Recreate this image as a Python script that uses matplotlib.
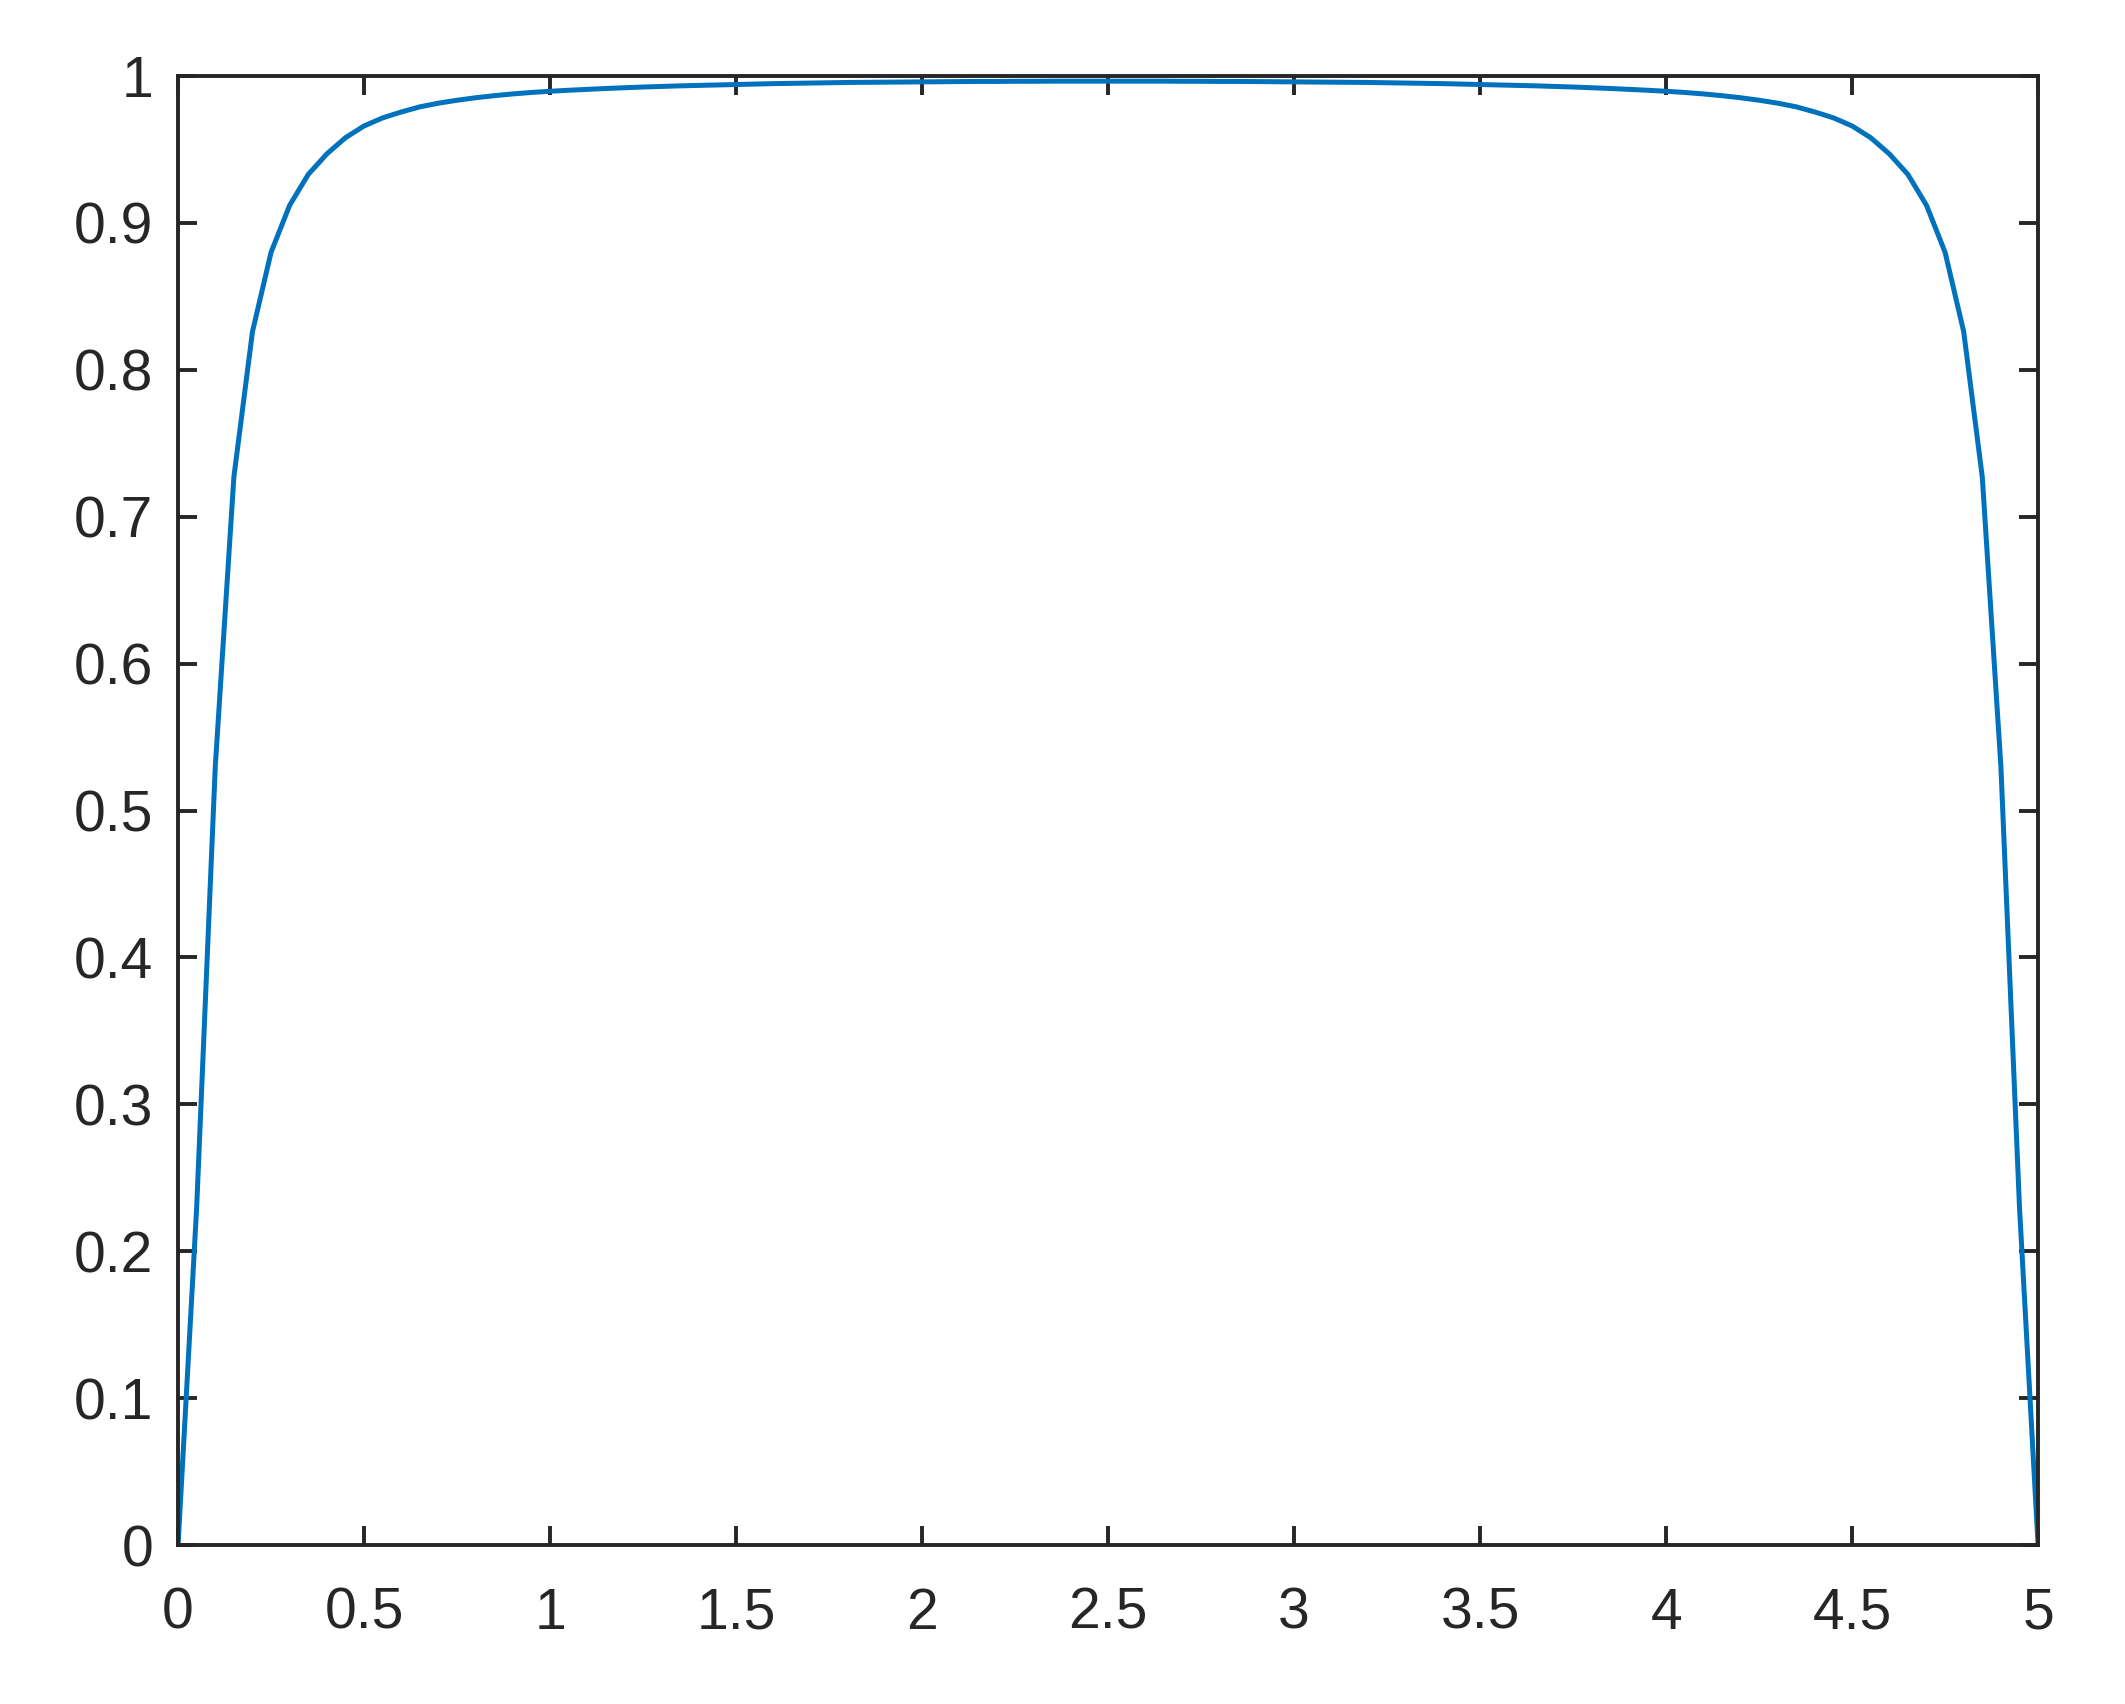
import numpy as np
import matplotlib
matplotlib.use("Agg")
import matplotlib.pyplot as plt

# sample grid, step 0.05 from 0 to 5
x = np.round(np.arange(0, 5.0001, 0.05), 2)

# values, x = 0 .. 2.5
y_left = [0.0, 0.23, 0.53, 0.727, 0.826, 0.880, 0.912, 0.933, 0.947, 0.958,
          0.966, 0.9715, 0.9755, 0.979, 0.9815, 0.9835, 0.9852, 0.9866, 0.9878, 0.9888,
          0.9896, 0.9903, 0.9909, 0.9915, 0.992, 0.9925, 0.9929, 0.9933, 0.9936, 0.9939,
          0.9942, 0.9945, 0.9948, 0.995, 0.9952, 0.9954, 0.9956, 0.9957, 0.9958, 0.9959,
          0.996, 0.9961, 0.9962, 0.9963, 0.9963, 0.9964, 0.9964, 0.9965, 0.9965, 0.9965,
          0.9965]
# values, x = 2.55 .. 5
y_right = [0.9965, 0.9965, 0.9965, 0.9964, 0.9964, 0.9963, 0.9963, 0.9962, 0.9961, 0.996,
           0.9959, 0.9958, 0.9957, 0.9956, 0.9954, 0.9952, 0.995, 0.9948, 0.9945, 0.9942,
           0.9939, 0.9936, 0.9933, 0.9929, 0.9925, 0.992, 0.9915, 0.9909, 0.9903, 0.9896,
           0.9888, 0.9878, 0.9866, 0.9852, 0.9835, 0.9815, 0.979, 0.9755, 0.9715, 0.966,
           0.958, 0.947, 0.933, 0.912, 0.880, 0.826, 0.727, 0.53, 0.23, 0.0]
y = np.array(y_left + y_right)

xticks = [0, 0.5, 1, 1.5, 2, 2.5, 3, 3.5, 4, 4.5, 5]
xticklabels = ["0", "0.5", "1", "1.5", "2", "2.5", "3", "3.5", "4", "4.5", "5"]
yticks = [0, 0.1, 0.2, 0.3, 0.4, 0.5, 0.6, 0.7, 0.8, 0.9, 1]
yticklabels = ["0", "0.1", "0.2", "0.3", "0.4", "0.5", "0.6", "0.7", "0.8", "0.9", "1"]

plt.rcParams["font.family"] = ["Liberation Sans", "DejaVu Sans"]
dark = "#262626"

fig = plt.figure(figsize=(10.625, 8.52), dpi=200)
ax = fig.add_axes([0.0838, 0.0933, 0.8753, 0.8621])
ax.plot(x, y, color="#0072BD", linewidth=1.8)

ax.set_xlim(0, 5)
ax.set_ylim(0, 1)
ax.set_xticks(xticks)
ax.set_xticklabels(xticklabels)
ax.set_yticks(yticks)
ax.set_yticklabels(yticklabels)

for s in ax.spines.values():
    s.set_linewidth(1.4)
    s.set_color(dark)
ax.tick_params(direction="in", length=7, width=1.4, colors=dark,
               labelsize=20.5, top=True, right=True)
ax.tick_params(axis="x", pad=15)
ax.tick_params(axis="y", pad=9)

fig.savefig("out.png", dpi=200, facecolor="white")
